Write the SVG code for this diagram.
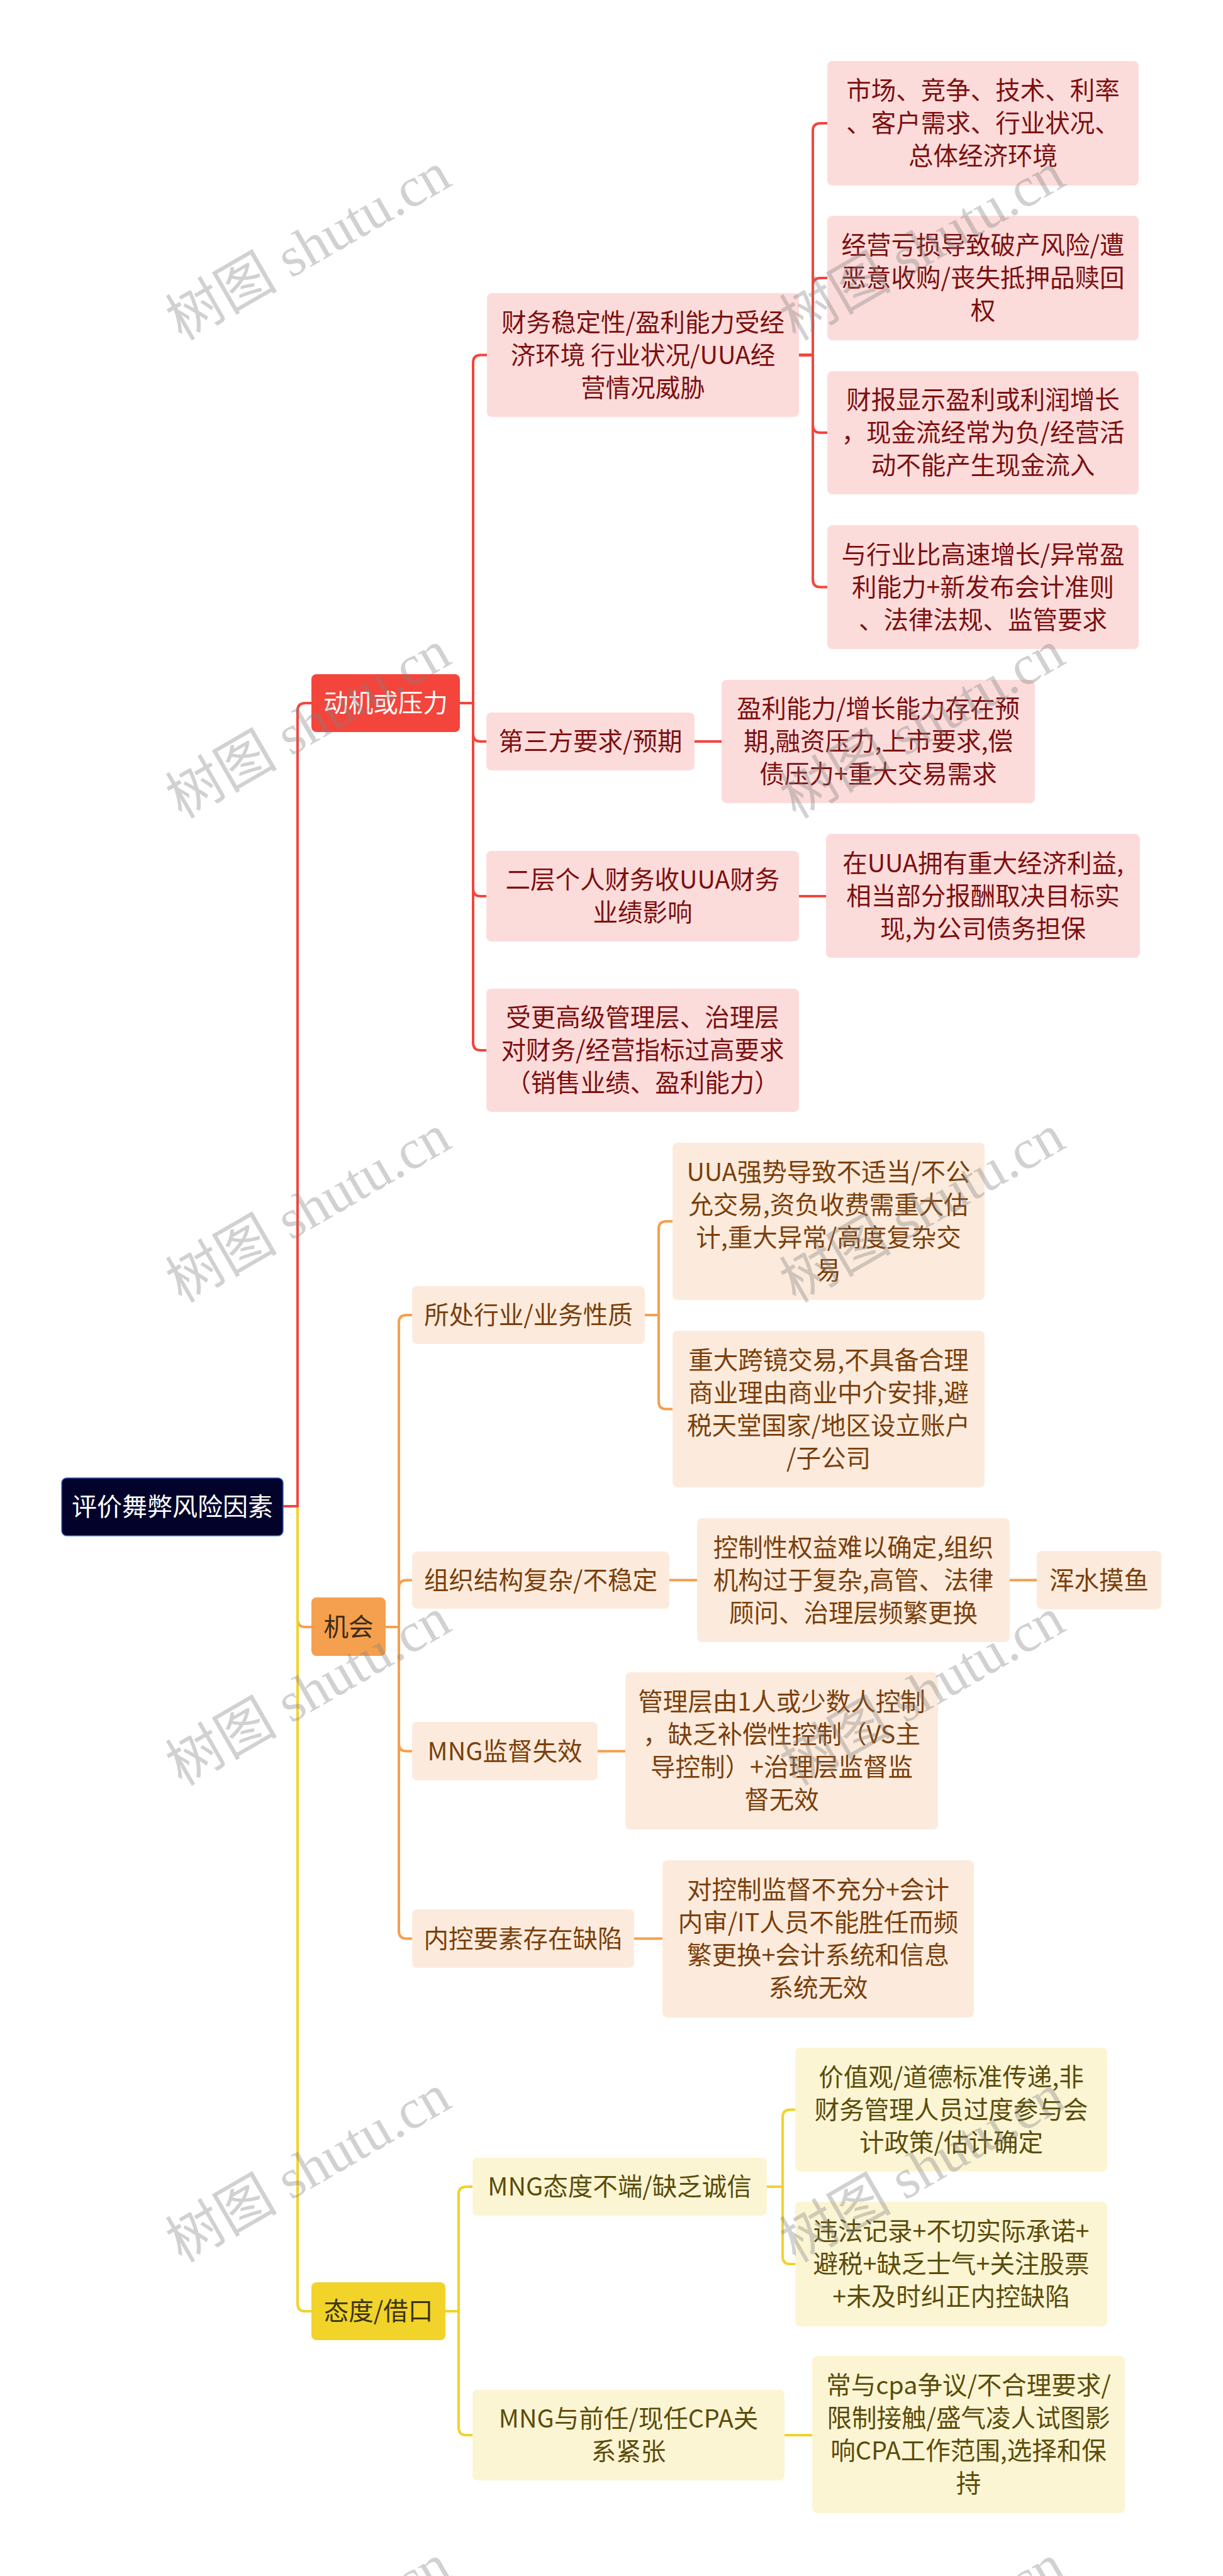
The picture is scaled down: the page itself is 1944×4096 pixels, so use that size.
<svg xmlns="http://www.w3.org/2000/svg" width="1944" height="4096" viewBox="0 0 1944 4096">
<style>
  .t{font-family:"Noto Sans CJK SC","Noto Sans",sans-serif;font-size:39.5px;text-anchor:middle}
  .c{fill:none;stroke-width:4;stroke-linecap:butt;stroke-linejoin:round}
  .cr{stroke:#F4453C}.co{stroke:#F4A04E}.cy{stroke:#F1D32A}
  .pr{fill:#FCDCDB}.po{fill:#FCEBDC}.py{fill:#FBF5D4}
  .tr{fill:#7C1010}.to{fill:#7B3F0C}.ty{fill:#5B4C0A}
  .wm{font-family:"Liberation Serif","Noto Sans CJK SC",serif;font-size:89px;fill:#808080;fill-opacity:0.36;text-anchor:middle}
</style>
<rect x="0" y="0" width="1944" height="4096" fill="#FFFFFF"/>
<g id="connectors">
  <path class="c co" d="M450 2395 H473 V2575 Q473 2587 485 2587 H495"/>
  <path class="c cy" d="M450 2395 H473 V3663 Q473 3675 485 3675 H495"/>
  <path class="c cr" d="M450 2395 H473 V1130 Q473 1118 485 1118 H495"/>
  <path class="c cr" d="M731 1118 H752 V576.5 Q752 564.5 764 564.5 H774"/>
  <path class="c cr" d="M731 1118 H752 V1167 Q752 1179 764 1179 H773"/>
  <path class="c cr" d="M731 1118 H752 V1413 Q752 1425 764 1425 H773"/>
  <path class="c cr" d="M731 1118 H752 V1658 Q752 1670 764 1670 H773"/>
  <path class="c cr" d="M1270 564.5 H1292 V208 Q1292 196 1304 196 H1315"/>
  <path class="c cr" d="M1270 564.5 H1292 V454 Q1292 442 1304 442 H1315"/>
  <path class="c cr" d="M1270 564.5 H1292 V676 Q1292 688 1304 688 H1315"/>
  <path class="c cr" d="M1270 564.5 H1292 V921.5 Q1292 933.5 1304 933.5 H1315"/>
  <path class="c cr" d="M1104 1179 H1147"/>
  <path class="c cr" d="M1270 1425 H1313"/>
  <path class="c co" d="M613 2587 H634 V2103 Q634 2091 646 2091 H655"/>
  <path class="c co" d="M613 2587 H634 V2524.5 Q634 2512.5 646 2512.5 H655"/>
  <path class="c co" d="M613 2587 H634 V2772.5 Q634 2784.5 646 2784.5 H655"/>
  <path class="c co" d="M613 2587 H634 V3070.5 Q634 3082.5 646 3082.5 H655"/>
  <path class="c co" d="M1025 2091 H1047 V1954 Q1047 1942 1059 1942 H1069"/>
  <path class="c co" d="M1025 2091 H1047 V2228.5 Q1047 2240.5 1059 2240.5 H1069"/>
  <path class="c co" d="M1064 2512.5 H1108"/>
  <path class="c co" d="M1605 2512.5 H1648"/>
  <path class="c co" d="M950 2784.5 H994"/>
  <path class="c co" d="M1008 3082.5 H1053"/>
  <path class="c cy" d="M708 3675 H729 V3489 Q729 3477 741 3477 H751"/>
  <path class="c cy" d="M708 3675 H729 V3860 Q729 3872 741 3872 H751"/>
  <path class="c cy" d="M1219 3477 H1244 V3366.5 Q1244 3354.5 1256 3354.5 H1264"/>
  <path class="c cy" d="M1219 3477 H1244 V3588 Q1244 3600 1256 3600 H1264"/>
  <path class="c cy" d="M1247 3872 H1291"/>
</g>
<g id="root">
  <rect x="98" y="2350" width="352" height="92" rx="8" fill="#02022A" stroke="#3B6FD6" stroke-width="1.5"/>
  <text class="t" x="274" y="2410" fill="#FFFFFF" style="font-size:40px">评价舞弊风险因素</text>
</g>
<g id="n-dongji">
  <rect x="495" y="1072" width="236" height="92" rx="8" fill="#F4453C"/>
  <text class="t" x="613" y="1132" fill="#FFFFFF">动机或压力</text>
</g>
<g id="n-caiwu">
  <rect class="pr" x="774" y="466" width="496" height="197" rx="8"/>
  <text class="t tr" x="1022" y="526.5">财务稳定性/盈利能力受经</text>
  <text class="t tr" x="1022" y="578.5">济环境 行业状况/UUA经</text>
  <text class="t tr" x="1022" y="630.5">营情况威胁</text>
</g>
<g id="n-a1">
  <rect class="pr" x="1315" y="97" width="495" height="198" rx="8"/>
  <text class="t tr" x="1562.5" y="158">市场、竞争、技术、利率</text>
  <text class="t tr" x="1562.5" y="210">、客户需求、行业状况、</text>
  <text class="t tr" x="1562.5" y="262">总体经济环境</text>
</g>
<g id="n-a2">
  <rect class="pr" x="1315" y="343" width="495" height="198" rx="8"/>
  <text class="t tr" x="1562.5" y="404">经营亏损导致破产风险/遭</text>
  <text class="t tr" x="1562.5" y="456">恶意收购/丧失抵押品赎回</text>
  <text class="t tr" x="1562.5" y="508">权</text>
</g>
<g id="n-a3">
  <rect class="pr" x="1315" y="590" width="495" height="196" rx="8"/>
  <text class="t tr" x="1562.5" y="650">财报显示盈利或利润增长</text>
  <text class="t tr" x="1562.5" y="702">，现金流经常为负/经营活</text>
  <text class="t tr" x="1562.5" y="754">动不能产生现金流入</text>
</g>
<g id="n-a4">
  <rect class="pr" x="1315" y="835" width="495" height="197" rx="8"/>
  <text class="t tr" x="1562.5" y="895.5">与行业比高速增长/异常盈</text>
  <text class="t tr" x="1562.5" y="947.5">利能力+新发布会计准则</text>
  <text class="t tr" x="1562.5" y="999.5">、法律法规、监管要求</text>
</g>
<g id="n-disanfang">
  <rect class="pr" x="773" y="1133" width="331" height="92" rx="8"/>
  <text class="t tr" x="938.5" y="1193">第三方要求/预期</text>
</g>
<g id="n-yingli">
  <rect class="pr" x="1147" y="1081" width="498" height="196" rx="8"/>
  <text class="t tr" x="1396" y="1141">盈利能力/增长能力存在预</text>
  <text class="t tr" x="1396" y="1193">期,融资压力,上市要求,偿</text>
  <text class="t tr" x="1396" y="1245">债压力+重大交易需求</text>
</g>
<g id="n-erceng">
  <rect class="pr" x="773" y="1353" width="497" height="144" rx="8"/>
  <text class="t tr" x="1021.5" y="1413">二层个人财务收UUA财务</text>
  <text class="t tr" x="1021.5" y="1465">业绩影响</text>
</g>
<g id="n-zaiuua">
  <rect class="pr" x="1313" y="1326" width="499" height="197" rx="8"/>
  <text class="t tr" x="1562.5" y="1386.5">在UUA拥有重大经济利益,</text>
  <text class="t tr" x="1562.5" y="1438.5">相当部分报酬取决目标实</text>
  <text class="t tr" x="1562.5" y="1490.5">现,为公司债务担保</text>
</g>
<g id="n-shougeng">
  <rect class="pr" x="773" y="1572" width="497" height="196" rx="8"/>
  <text class="t tr" x="1021.5" y="1632">受更高级管理层、治理层</text>
  <text class="t tr" x="1021.5" y="1684">对财务/经营指标过高要求</text>
  <text class="t tr" x="1021.5" y="1736">（销售业绩、盈利能力）</text>
</g>
<g id="n-jihui">
  <rect x="495" y="2540" width="118" height="93" rx="8" fill="#F4A04E"/>
  <text class="t" x="554" y="2600.5" fill="#3B2A17">机会</text>
</g>
<g id="n-suochu">
  <rect class="po" x="655" y="2045" width="370" height="92" rx="8"/>
  <text class="t to" x="840" y="2105">所处行业/业务性质</text>
</g>
<g id="n-b1a">
  <rect class="po" x="1069" y="1817" width="496" height="250" rx="8"/>
  <text class="t to" x="1317" y="1878">UUA强势导致不适当/不公</text>
  <text class="t to" x="1317" y="1930">允交易,资负收费需重大估</text>
  <text class="t to" x="1317" y="1982">计,重大异常/高度复杂交</text>
  <text class="t to" x="1317" y="2034">易</text>
</g>
<g id="n-b1b">
  <rect class="po" x="1069" y="2116" width="496" height="249" rx="8"/>
  <text class="t to" x="1317" y="2176.5">重大跨镜交易,不具备合理</text>
  <text class="t to" x="1317" y="2228.5">商业理由商业中介安排,避</text>
  <text class="t to" x="1317" y="2280.5">税天堂国家/地区设立账户</text>
  <text class="t to" x="1317" y="2332.5">/子公司</text>
</g>
<g id="n-zuzhi">
  <rect class="po" x="655" y="2467" width="409" height="91" rx="8"/>
  <text class="t to" x="859.5" y="2526.5">组织结构复杂/不稳定</text>
</g>
<g id="n-kongzhi">
  <rect class="po" x="1108" y="2414" width="497" height="197" rx="8"/>
  <text class="t to" x="1356.5" y="2474.5">控制性权益难以确定,组织</text>
  <text class="t to" x="1356.5" y="2526.5">机构过于复杂,高管、法律</text>
  <text class="t to" x="1356.5" y="2578.5">顾问、治理层频繁更换</text>
</g>
<g id="n-hunshui">
  <rect class="po" x="1648" y="2466" width="198" height="93" rx="8"/>
  <text class="t to" x="1747" y="2526.5">浑水摸鱼</text>
</g>
<g id="n-mngjiandu">
  <rect class="po" x="655" y="2738" width="295" height="93" rx="8"/>
  <text class="t to" x="802.5" y="2798.5">MNG监督失效</text>
</g>
<g id="n-guanli">
  <rect class="po" x="994" y="2659" width="497" height="250" rx="8"/>
  <text class="t to" x="1242.5" y="2720">管理层由1人或少数人控制</text>
  <text class="t to" x="1242.5" y="2772">，缺乏补偿性控制（VS主</text>
  <text class="t to" x="1242.5" y="2824">导控制）+治理层监督监</text>
  <text class="t to" x="1242.5" y="2876">督无效</text>
</g>
<g id="n-neikong">
  <rect class="po" x="655" y="3036" width="353" height="93" rx="8"/>
  <text class="t to" x="831.5" y="3096.5">内控要素存在缺陷</text>
</g>
<g id="n-duikongzhi">
  <rect class="po" x="1053" y="2958" width="495" height="250" rx="8"/>
  <text class="t to" x="1300.5" y="3019">对控制监督不充分+会计</text>
  <text class="t to" x="1300.5" y="3071">内审/IT人员不能胜任而频</text>
  <text class="t to" x="1300.5" y="3123">繁更换+会计系统和信息</text>
  <text class="t to" x="1300.5" y="3175">系统无效</text>
</g>
<g id="n-taidu">
  <rect x="495" y="3629" width="213" height="92" rx="8" fill="#F1D32A"/>
  <text class="t" x="601.5" y="3689" fill="#3A3414">态度/借口</text>
</g>
<g id="n-mngtaidu">
  <rect class="py" x="751" y="3431" width="468" height="92" rx="8"/>
  <text class="t ty" x="985" y="3491">MNG态度不端/缺乏诚信</text>
</g>
<g id="n-c1a">
  <rect class="py" x="1264" y="3256" width="496" height="197" rx="8"/>
  <text class="t ty" x="1512" y="3316.5">价值观/道德标准传递,非</text>
  <text class="t ty" x="1512" y="3368.5">财务管理人员过度参与会</text>
  <text class="t ty" x="1512" y="3420.5">计政策/估计确定</text>
</g>
<g id="n-c1b">
  <rect class="py" x="1264" y="3501" width="496" height="198" rx="8"/>
  <text class="t ty" x="1512" y="3562">违法记录+不切实际承诺+</text>
  <text class="t ty" x="1512" y="3614">避税+缺乏士气+关注股票</text>
  <text class="t ty" x="1512" y="3666">+未及时纠正内控缺陷</text>
</g>
<g id="n-mngqianren">
  <rect class="py" x="751" y="3800" width="496" height="144" rx="8"/>
  <text class="t ty" x="999" y="3860">MNG与前任/现任CPA关</text>
  <text class="t ty" x="999" y="3912">系紧张</text>
</g>
<g id="n-changyu">
  <rect class="py" x="1291" y="3746" width="497" height="250" rx="8"/>
  <text class="t ty" x="1539.5" y="3807">常与cpa争议/不合理要求/</text>
  <text class="t ty" x="1539.5" y="3859">限制接触/盛气凌人试图影</text>
  <text class="t ty" x="1539.5" y="3911">响CPA工作范围,选择和保</text>
  <text class="t ty" x="1539.5" y="3963">持</text>
</g>
<g id="watermarks">
  <text class="wm" transform="translate(490 392) rotate(-30)" y="30">树图 shutu.cn</text>
  <text class="wm" transform="translate(1466 392) rotate(-30)" y="30">树图 shutu.cn</text>
  <text class="wm" transform="translate(490 1152) rotate(-30)" y="30">树图 shutu.cn</text>
  <text class="wm" transform="translate(1466 1152) rotate(-30)" y="30">树图 shutu.cn</text>
  <text class="wm" transform="translate(490 1922) rotate(-30)" y="30">树图 shutu.cn</text>
  <text class="wm" transform="translate(1466 1922) rotate(-30)" y="30">树图 shutu.cn</text>
  <text class="wm" transform="translate(490 2690) rotate(-30)" y="30">树图 shutu.cn</text>
  <text class="wm" transform="translate(1466 2690) rotate(-30)" y="30">树图 shutu.cn</text>
  <text class="wm" transform="translate(490 3448) rotate(-30)" y="30">树图 shutu.cn</text>
  <text class="wm" transform="translate(1466 3448) rotate(-30)" y="30">树图 shutu.cn</text>
  <text class="wm" transform="translate(490 4195) rotate(-30)" y="30">树图 shutu.cn</text>
  <text class="wm" transform="translate(1466 4195) rotate(-30)" y="30">树图 shutu.cn</text>
</g>
</svg>
